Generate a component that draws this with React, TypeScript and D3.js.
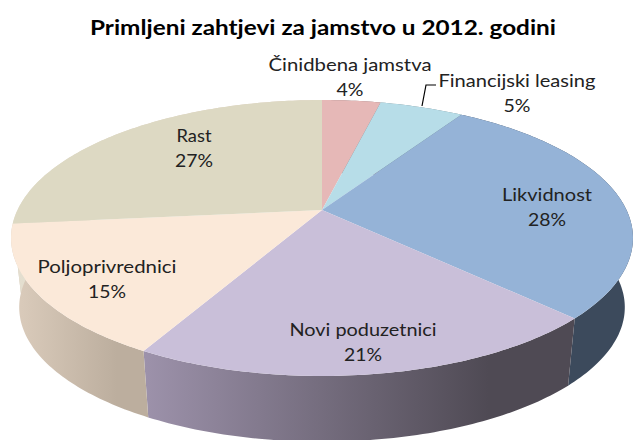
import React from 'react';
import * as d3 from 'd3';

const categories = ['Činidbena jamstva', 'Financijski leasing', 'Likvidnost', 'Novi poduzetnici', 'Poljoprivrednici', 'Rast'];
const values = [3.7, 5.3, 28.4, 20.6, 15.4, 26.6];
const topColors = ['#e6b8b7', '#b7dde8', '#95b3d7', '#c9bfd9', '#fbe9d9', '#ddd9c3'];
// side wall gradient, left colour then right colour
const sideLeft = ['#8a6e6e', '#6e858c', '#3c4a5c', '#9d92ab', '#dccdbd', '#e4dfd0'];
const sideRight = ['#8a6e6e', '#6e858c', '#3c4a5c', '#4f4a54', '#bcae9e', '#dccdbd'];
const title = 'Primljeni zahtjevi za jamstvo u 2012. godini';

const width = 633;
const height = 440;
const pct = d3.format('.0f');

// label anchor for each slice (centre x, baseline of first line), then text widths
const labelAt: [number, number][] = [[350, 71], [517, 87], [547, 201], [363, 336], [107, 273], [194, 142]];
const nameWidth = [163, 157, 90, 147, 139, 35];
const pctWidth = [27, 27, 38, 38, 38, 38];

// perspective disc: unit circle angle -> screen
const k = 0.203;
const project = (a: number, cx: number, cy: number, rx: number, ry: number): [number, number] => {
  const u = Math.sin(a);
  const v = -Math.cos(a);
  const w = 1 - k * v;
  return [cx + (rx * u) / w, cy + (ry * v) / w];
};
const top = (a: number) => project(a, 322, 210, 304.5, 132.3);
const bottom = (a: number) => project(a, 322, 280, 296.5, 128.9);

const arcs = d3.pie<number>().sort(null)(values);
const line = d3.line();

const sample = (a0: number, a1: number) => {
  const n = Math.max(2, Math.ceil(Math.abs(a1 - a0) * 60));
  return d3.range(n + 1).map((i) => a0 + ((a1 - a0) * i) / n);
};

export default function App() {
  const apex: [number, number] = [322, 210];
  return (
    <svg width={width} height={height} style={{ position: 'absolute', left: 0, top: 0, background: '#fff' }} fontFamily="Lato, sans-serif">
      <defs>
        {arcs.map((d, i) => {
          const pts = sample(d.startAngle, d.endAngle).map(top);
          return (
            <linearGradient key={i} id={`side${i}`} gradientUnits="userSpaceOnUse"
              x1={d3.min(pts, (p) => p[0])} x2={d3.max(pts, (p) => p[0])} y1={0} y2={0}>
              <stop offset="0" stopColor={sideLeft[i]} />
              <stop offset="0.8" stopColor={sideRight[i]} />
            </linearGradient>
          );
        })}
      </defs>
      {/* walls first, the top face covers the hidden part */}
      {arcs.map((d, i) => {
        const as = sample(d.startAngle, d.endAngle);
        const pts = [...as.map(top), ...as.slice().reverse().map(bottom)];
        return <path key={i} d={line(pts) + 'Z'} fill={`url(#side${i})`} />;
      })}
      {arcs.map((d, i) => {
        const pts = [apex, ...sample(d.startAngle, d.endAngle).map(top)];
        return <path key={i} d={line(pts) + 'Z'} fill={topColors[i]} />;
      })}
      <path d={line([[422, 106], [426, 85], [436, 85]]) ?? ''} fill="none" stroke="#000" strokeWidth={1.2} />
      <text x={323} y={35} textAnchor="middle" fontSize={20} fontWeight={700} fill="#000" textLength={466} lengthAdjust="spacingAndGlyphs">{title}</text>
      {categories.map((c, i) => (
        <g key={c} fontSize={18} fill="#222" textAnchor="middle">
          <text x={labelAt[i][0]} y={labelAt[i][1]} textLength={nameWidth[i]} lengthAdjust="spacingAndGlyphs">{c}</text>
          <text x={labelAt[i][0]} y={labelAt[i][1] + 25} textLength={pctWidth[i]} lengthAdjust="spacingAndGlyphs">{pct(values[i])}%</text>
        </g>
      ))}
    </svg>
  );
}
